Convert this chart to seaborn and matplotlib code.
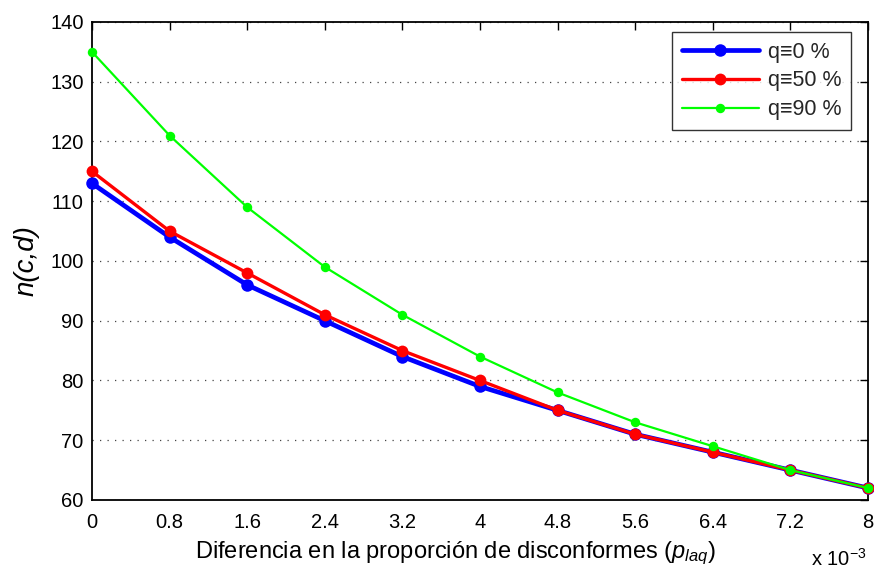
import matplotlib
matplotlib.use("Agg")
import matplotlib.pyplot as plt
import seaborn as sns
import pandas as pd

# Difference in nonconforming proportion (x 10^-3)
p_laq = [0, 0.8, 1.6, 2.4, 3.2, 4, 4.8, 5.6, 6.4, 7.2, 8]
x_tick_labels = ["0", "0.8", "1.6", "2.4", "3.2", "4", "4.8", "5.6", "6.4", "7.2", "8"]

# Sample size n(c,d) for each q level
n_q0 = [113, 104, 96, 90, 84, 79, 75, 71, 68, 65, 62]
n_q50 = [115, 105, 98, 91, 85, 80, 75, 71, 68, 65, 62]
n_q90 = [135, 121, 109, 99, 91, 84, 78, 73, 69, 65, 62]

series_labels = ["q\u22610 %", "q\u226150 %", "q\u226190 %"]
y_ticks = [60, 70, 80, 90, 100, 110, 120, 130, 140]

sns.set_theme(style="white")
plt.rcParams["font.family"] = ["Liberation Sans", "DejaVu Sans"]
plt.rcParams["mathtext.fontset"] = "custom"
plt.rcParams["mathtext.it"] = "Liberation Sans:italic"
plt.rcParams["mathtext.rm"] = "Liberation Sans"

W, H = 874, 574
fig = plt.figure(figsize=(W / 100, H / 100), dpi=100)
ax = fig.add_axes([92 / W, 74 / H, 776 / W, 478 / H])

styles = [
    dict(color="#0000ff", linewidth=3.4, markersize=9.0),
    dict(color="#ff0000", linewidth=2.4, markersize=8.5),
    dict(color="#00ff00", linewidth=1.6, markersize=6.8),
]

for values, label, st in zip([n_q0, n_q50, n_q90], series_labels, styles):
    df = pd.DataFrame({"p": p_laq, "n": values})
    sns.lineplot(data=df, x="p", y="n", ax=ax, label=label, marker="o",
                 markeredgewidth=0, color=st["color"], linewidth=st["linewidth"],
                 markersize=st["markersize"], clip_on=False, zorder=3)

ax.set_xlim(0, 8)
ax.set_ylim(60, 140)
ax.set_xticks(p_laq)
ax.set_xticklabels(x_tick_labels)
ax.set_yticks(y_ticks)

for s in ax.spines.values():
    s.set_color("black")
    s.set_linewidth(1.3)

ax.tick_params(axis="both", which="major", direction="in", length=6, width=1,
               colors="black", labelsize=14.5, top=True, right=True,
               labelcolor="black")
ax.tick_params(axis="x", pad=9)
ax.tick_params(axis="y", pad=6)

ax.yaxis.grid(True, linestyle=(0, (1, 5)), color="#444444", linewidth=0.9)
ax.xaxis.grid(False)

ax.set_xlabel("Diferencia en la proporción de disconformes ($p_{laq}$)",
              fontsize=17, color="black")
ax.xaxis.set_label_coords((456 - 92) / 776, -0.083)
ax.set_ylabel("n(c,d)", fontsize=20, fontstyle="italic", color="black",
              labelpad=8)

fig.text(867 / W, 1 - 566 / H, "x 10$^{-3}$", fontsize=14.5,
         ha="right", va="baseline", color="black")

leg = ax.legend(loc="upper right", fontsize=15.5, frameon=True, fancybox=False,
                handlelength=3.6, handletextpad=0.4, labelspacing=0.36,
                borderpad=0.45, borderaxespad=0)
leg.set_bbox_to_anchor((851 / W, 1 - 32 / H), transform=fig.transFigure)
leg.get_frame().set_edgecolor("black")
leg.get_frame().set_linewidth(1.0)

fig.savefig("out.png", dpi=100)
